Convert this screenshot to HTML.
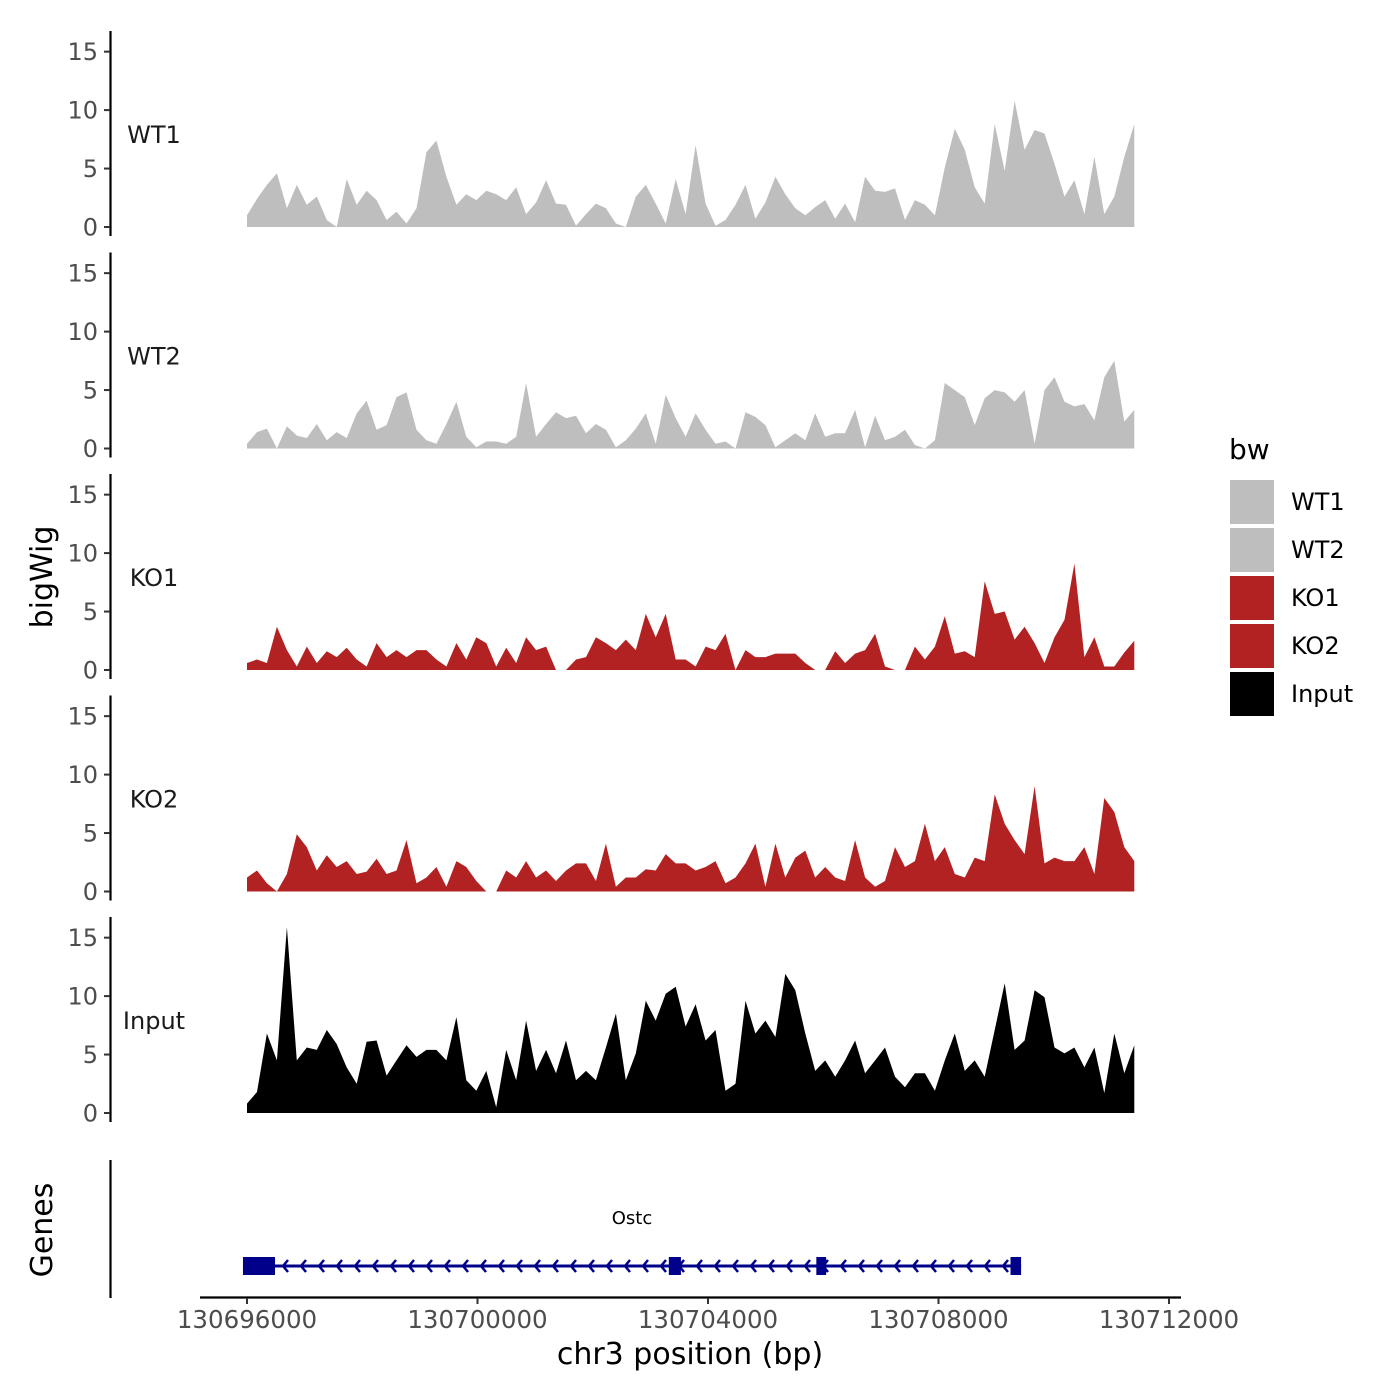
<!DOCTYPE html>
<html><head><meta charset="utf-8"><style>
html,body{margin:0;padding:0;background:#fff;}
svg{display:block;font-family:"DejaVu Sans","Liberation Sans",sans-serif;}
</style></head><body>
<svg id="chart" width="1400" height="1400" viewBox="0 0 1400 1400" xmlns="http://www.w3.org/2000/svg">
<g id="tracks"></g>
<g id="genes"></g>
<g id="xaxis"></g>
<text x="0" y="0" transform="translate(52,577) rotate(-90)" text-anchor="middle" font-size="30" fill="#000">bigWig</text>
<text x="0" y="0" transform="translate(52,1230) rotate(-90)" text-anchor="middle" font-size="30" fill="#000">Genes</text>
<text x="690" y="1364" text-anchor="middle" font-size="30" fill="#000">chr3 position (bp)</text>
<g id="legend"></g>
</svg>
<script>
const binStart = 130696000;
const binStep = 173;
const trackNames = ["WT1","WT2","KO1","KO2","Input"];
const trackColors = ["#bebebe","#bebebe","#b22222","#b22222","#000000"];
const wt1Values = [1.0,2.4,3.6,4.6,1.6,3.6,1.9,2.6,0.6,0,4.1,1.9,3.1,2.3,0.6,1.3,0.3,1.6,6.4,7.4,4.3,1.9,2.8,2.3,3.1,2.8,2.3,3.4,1.1,2.1,4.0,2.0,1.9,0.1,1.1,2.0,1.6,0.3,0,2.6,3.6,2.0,0.3,4.1,1.1,
7.0,2.0,0.1,0.6,1.9,3.6,0.7,2.1,4.3,2.8,1.6,1.0,1.7,2.3,0.7,2.0,0.4,4.3,3.1,3.0,3.3,0.6,2.3,1.9,1.0,5.1,8.4,6.6,3.4,2.0,8.8,4.8,10.8,6.6,8.3,8.0,5.4,2.6,4.0,1.1,6.0,1.1,2.6,6.0,8.8];
const wt2Values = [0.4,1.4,1.7,0,1.9,1.1,0.9,2.1,0.7,1.4,0.9,3.0,4.1,1.6,2.0,4.4,4.8,1.6,0.7,0.4,2.1,4.0,1.0,0.1,0.6,0.6,0.4,1.0,5.6,1.0,2.1,3.1,2.6,2.8,1.3,2.1,1.6,0.1,0.7,1.7,3.0,0.4,4.6,2.6,1.0,3.0,1.6,0.4,0.6,0,3.1,2.7,2.0,0.1,0.7,1.3,0.7,3.0,1.0,1.3,1.3,3.3,0.1,2.8,0.7,1.0,1.6,0.3,0,0.7,5.6,5.0,4.4,2.0,4.3,5.0,4.8,4.0,5.0,0.4,5.0,6.1,4.0,3.6,3.8,2.4,6.1,7.5,2.3,3.3];
const ko1Values = [0.6,0.9,0.6,3.7,1.7,0.3,2.0,0.6,1.6,1.1,1.9,0.9,0.3,2.3,1.1,1.7,1.1,1.7,1.7,0.9,0.3,2.3,0.9,2.8,2.3,0.3,1.9,0.6,2.8,1.7,2.0,0,0,0.9,1.1,2.8,2.3,1.7,2.6,1.7,4.8,2.8,4.8,0.9,0.9,0.3,2.0,1.7,3.1,0,1.7,1.1,1.1,1.4,1.4,1.4,0.6,0,0,1.6,0.6,1.4,1.7,3.1,0.3,0,0,2.0,0.9,2.0,4.6,1.4,1.6,1.1,7.6,4.8,5.0,2.6,3.7,2.3,0.6,2.8,4.3,9.1,1.1,2.8,0.3,0.3,1.5,2.5];
const ko2Values = [1.2,1.8,0.7,0,1.5,4.9,3.8,1.8,3.1,2.1,2.6,1.5,1.7,2.8,1.5,1.8,4.4,0.7,1.2,2.1,0.4,2.6,2.1,0.9,0,0,1.8,1.2,2.6,1.2,1.8,0.9,1.8,2.4,2.4,0.9,4.1,0.4,1.2,1.2,1.9,1.8,3.2,2.4,2.4,1.8,2.1,2.6,0.7,1.2,2.4,4.1,0.4,4.1,1.2,2.9,3.5,1.2,2.1,1.2,0.9,4.4,1.2,0.4,0.9,3.8,2.1,2.6,5.8,2.6,3.8,1.5,1.2,2.9,2.6,8.3,5.8,4.4,3.2,9.0,2.4,2.9,2.6,2.6,3.8,1.5,8.0,6.8,3.8,2.6];
const inputValues = [0.8,1.8,6.8,4.5,15.9,4.5,5.6,5.4,7.1,5.9,3.9,2.5,6.1,6.2,3.2,4.5,5.8,4.8,5.4,5.4,4.5,8.2,2.8,1.9,3.6,0.5,5.4,2.8,7.9,3.6,5.4,3.4,6.2,2.8,3.6,2.8,5.6,8.5,2.8,5.1,9.6,7.9,10.2,10.8,7.4,9.3,6.2,7.1,1.9,2.5,9.6,6.8,7.9,6.5,11.9,10.5,6.8,3.6,4.5,3.1,4.5,6.2,3.4,4.5,5.6,3.1,2.2,3.4,3.4,1.9,4.5,6.8,3.6,4.5,3.1,7.1,11.1,5.4,6.2,10.5,9.9,5.6,5.1,5.6,3.9,5.6,1.7,6.8,3.4,5.8];
const yTicks = [0,5,10,15];
const xTicks = [130696000,130700000,130704000,130708000,130712000];
const xTickLabels = ["130696000","130700000","130704000","130708000","130712000"];
const geneName = "Ostc";
const geneStart = 130695930, geneEnd = 130709433;
const exonStarts = [130695930,130703320,130705880,130709250];
const exonEnds   = [130696486,130703530,130706050,130709433];

const NS="http://www.w3.org/2000/svg";
const allValues=[wt1Values,wt2Values,ko1Values,ko2Values,inputValues];
function xs(bp){return 247+(bp-130696000)*230.5/4000;}
const zeros=[227,448.5,670,891.5,1113];
const pxPerUnit=11.69;
function ys(i,v){return zeros[i]-v*pxPerUnit;}
function mk(tag,attrs,parent){const e=document.createElementNS(NS,tag);for(const k in attrs)e.setAttribute(k,attrs[k]);parent.appendChild(e);return e;}
const tg=document.getElementById('tracks');
allValues.forEach((vals,i)=>{
  const g=mk('g',{},tg);
  
  
  let d='M'+xs(binStart)+','+zeros[i];
  vals.forEach((v,j)=>{d+=' L'+xs(binStart+j*binStep).toFixed(1)+','+ys(i,v).toFixed(1);});
  d+=' L'+xs(binStart+(vals.length-1)*binStep).toFixed(1)+','+zeros[i]+' Z';
  const p=mk('path',{d:d,fill:trackColors[i]},g);
  
  
  const ax=mk('line',{x1:110.5,x2:110.5,y1:zeros[i]-196,y2:zeros[i]+9,stroke:'#000','stroke-width':2.2},g);
  
  
  yTicks.forEach(t=>{
    const y=ys(i,t);
    const tl=mk('line',{x1:104,x2:110,y1:y,y2:y,stroke:'#333','stroke-width':2},g);
    
    
    const tx=mk('text',{x:98,y:y+8.5,'text-anchor':'end','font-size':24,fill:'#4d4d4d'},g);
    tx.textContent=t;
    
    
  });
  const lb=mk('text',{x:154,y:zeros[i]-84,'text-anchor':'middle','font-size':24,fill:'#1a1a1a'},g);
  lb.textContent=trackNames[i];
  
  
});
// genes
const gg=document.getElementById('genes');
const gl=mk('line',{x1:110.5,x2:110.5,y1:1160,y2:1298,stroke:'#000','stroke-width':2.2},gg);


const gy=1266;
const line=mk('line',{x1:xs(geneStart),x2:xs(geneEnd),y1:gy,y2:gy,stroke:'#00008b','stroke-width':3},gg);


for(let x=xs(exonEnds[0])+8;x<xs(geneEnd)-4;x+=18){
  const a=mk('path',{d:`M${x+5},${gy-6} L${x},${gy} L${x+5},${gy+6}`,fill:'none',stroke:'#00008b','stroke-width':2.5},gg);
  
  
}
exonStarts.forEach((s,k)=>{
  const r=mk('rect',{x:xs(s),y:gy-9,width:xs(exonEnds[k])-xs(s),height:18,fill:'#00008b'},gg);
  
  
});
const gn=mk('text',{x:632,y:1224,'text-anchor':'middle','font-size':18,fill:'#000'},gg);
gn.textContent=geneName;


// x axis
const xg=document.getElementById('xaxis');
const xl=mk('line',{x1:200,x2:1181,y1:1297.5,y2:1297.5,stroke:'#000','stroke-width':2.2},xg);


xTicks.forEach((t,k)=>{
  const x=xs(t);
  const tl=mk('line',{x1:x,x2:x,y1:1298,y2:1304,stroke:'#333','stroke-width':2},xg);
  
  
  const tx=mk('text',{x:x,y:1328,'text-anchor':'middle','font-size':24.5,fill:'#4d4d4d'},xg);
  tx.textContent=xTickLabels[k];
  
  
});
// legend
const lg=document.getElementById('legend');
const lt=mk('text',{x:1229,y:459,'font-size':28,fill:'#000'},lg);
lt.textContent='bw';


trackNames.forEach((n,i)=>{
  const y=480+i*48;
  const r=mk('rect',{x:1230,y:y,width:44,height:44,fill:trackColors[i]},lg);
  
  
  const t=mk('text',{x:1291,y:y+30,'font-size':24,fill:'#000'},lg);
  t.textContent=n;
  
  
});
</script>
</body></html>
